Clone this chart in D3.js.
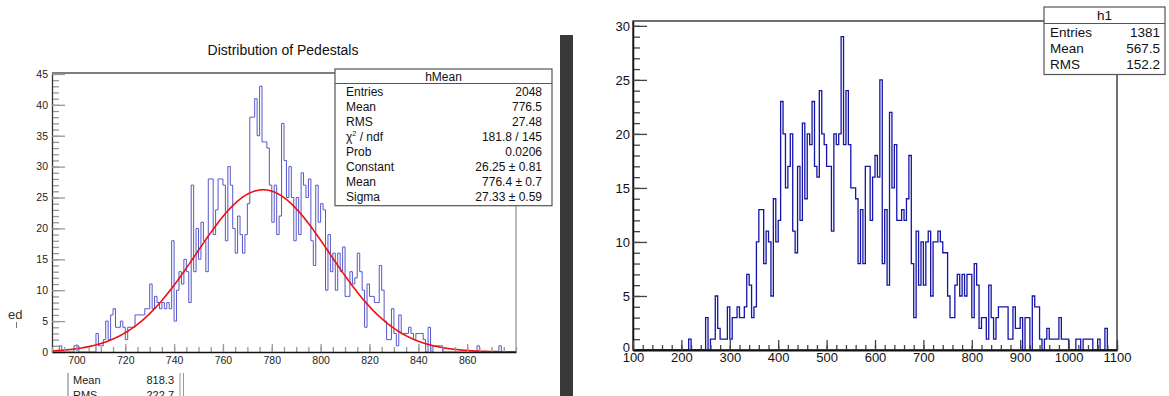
<!DOCTYPE html>
<html><head><meta charset="utf-8">
<script src="https://cdn.jsdelivr.net/npm/d3@7"></script>
<style>
body{margin:0;background:#fff}
svg{display:block}
text{font-family:"Liberation Sans",Arial,Helvetica,sans-serif}
</style>
</head><body>
<svg id="c" width="1169" height="396"></svg>
<script>
// ---------- data ----------
const leftTitle = "Distribution of Pedestals";
const leftBinStart = 690, leftBinWidth = 1;
const leftCounts = [
 0,0,0,1,0,0,0,0,0,1,
 1,0,0,0,0,0,0,0,3,1,
 1,2,5,2,6,7,4,4,5,4,
 2,4,4,4,6,6,6,6,7,7,
 11,7,9,8,7,8,7,8,7,18,
 5,10,13,11,15,13,8,27,13,20,
 15,21,18,13,28,28,19,23,28,28,
 27,18,30,27,20,16,22,19,16,19,
 24,38,38,41,35,43,34,34,33,27,
 21,27,19,22,37,31,25,30,25,18,
 25,19,29,27,25,28,18,14,27,21,
 24,23,10,19,13,16,10,16,13,17,
 9,9,13,11,12,16,13,10,4,11,
 9,9,8,8,14,10,5,2,2,7,
 3,1,6,3,3,3,4,3,2,3,
 3,3,2,0,4,0,1,1,1,1,
 0,0,0,0,0,0,0,0,0,0,
 0,0,0,0,1,0,0,0,0,0,
 0,0,0,1,0,0,0,0,0,0
];
const fitConstant = 26.25, fitMean = 776.4, fitSigma = 27.33;
const leftXTicks = [700,720,740,760,780,800,820,840,860];
const leftYTicks = [0,5,10,15,20,25,30,35,40,45];
const leftStatsTitle = "hMean";
const leftStatsLabels = ["Entries","Mean","RMS","χ2 / ndf","Prob","Constant","Mean","Sigma"];
const leftStatsValues = ["2048","776.5","27.48","181.8 / 145","0.0206","26.25 ± 0.81","776.4 ± 0.7","27.33 ± 0.59"];
const lowerStatsLabels = ["Mean","RMS"];
const lowerStatsValues = ["818.3","222.7"];

const rightBinStart = 100, rightBinWidth = 5;
const rightCounts = [
 0,0,0,0,0,0,0,0,0,0,
 0,0,0,0,0,0,0,0,0,0,
 0,0,0,1,0,0,0,0,0,0,
 3,0,1,1,5,2,1,1,1,4,
 1,3,3,4,3,3,4,7,6,3,
 4,10,13,13,8,11,10,5,14,10,
 12,23,20,15,17,20,11,9,17,12,
 21,14,20,19,23,17,16,24,20,19,
 17,17,11,20,19,20,29,19,24,19,
 15,15,14,8,13,8,17,17,12,16,
 18,16,25,8,13,6,22,15,19,12,
 12,13,12,14,18,8,3,11,6,10,
 6,10,11,5,10,10,11,10,9,9,
 5,3,3,6,7,5,7,5,7,7,
 3,8,6,2,3,3,1,6,3,1,
 3,4,4,4,4,1,1,4,2,2,
 3,0,3,3,0,5,4,4,1,0,
 1,2,1,1,1,1,3,1,1,1,
 0,0,0,1,1,0,1,1,1,1,
 0,0,1,0,0,2,0,0,0,0
];
const rightXTicks = [100,200,300,400,500,600,700,800,900,1000,1100];
const rightYTicks = [0,5,10,15,20,25,30];
const rightStatsTitle = "h1";
const rightStatsLabels = ["Entries","Mean","RMS"];
const rightStatsValues = ["1381","567.5","152.2"];

// ---------- drawing ----------
const svg = d3.select("#c");
const F = "Liberation Sans, Arial, sans-serif";
const fmt = d3.format("d");

function histPath(counts, start, width, x, y) {
  const p = d3.path();
  p.moveTo(x(start), y(0));
  counts.forEach((c, i) => {
    p.lineTo(x(start + i*width), y(c));
    p.lineTo(x(start + (i+1)*width), y(c));
  });
  p.lineTo(x(start + counts.length*width), y(0));
  return p.toString();
}

function range(a, b, s) { const r = []; for (let v = a; v <= b + 1e-9; v += s) r.push(+v.toFixed(6)); return r; }

// ===== Left panel =====
const xL = d3.scaleLinear().domain([690, 880]).range([52, 516]);
const yL = d3.scaleLinear().domain([0, 45.15]).range([352, 73]);

svg.append("text").attr("x", 283).attr("y", 55).attr("text-anchor", "middle")
  .attr("font-size", 14).attr("fill", "#111").text(leftTitle);

// frame
svg.append("line").attr("x1", xL(880)).attr("x2", xL(880)).attr("y1", yL(45.15)).attr("y2", yL(0))
  .attr("stroke", "#999").attr("stroke-width", 1.3);
svg.append("line").attr("x1", xL(690)).attr("x2", xL(880)).attr("y1", yL(45.15)).attr("y2", yL(45.15))
  .attr("stroke", "#555").attr("stroke-width", 1.3);

// histogram
svg.append("path").attr("d", histPath(leftCounts, leftBinStart, leftBinWidth, xL, yL))
  .attr("fill", "none").attr("stroke", "#5656cc").attr("stroke-width", 1);

// fit
const fitXs = d3.range(690, 880.01, 0.5);
svg.append("path").datum(fitXs)
  .attr("d", d3.line().x(d => xL(d)).y(d => yL(fitConstant*Math.exp(-0.5*Math.pow((d-fitMean)/fitSigma, 2)))))
  .attr("fill", "none").attr("stroke", "#f01010").attr("stroke-width", 1.6);

// y axis
const gyl = svg.append("g").attr("transform", `translate(${xL(690)},0)`);
gyl.call(d3.axisLeft(yL).tickValues(range(0, 45, 1)).tickSize(-7).tickSizeOuter(0).tickFormat(""));
gyl.call(g => g.select(".domain").remove());
const gyl2 = svg.append("g").attr("transform", `translate(${xL(690)},0)`);
gyl2.call(d3.axisLeft(yL).tickValues(leftYTicks).tickSize(-13).tickSizeOuter(0).tickPadding(4).tickFormat(fmt));
gyl2.selectAll(".tick text").attr("font-size", 10.5).attr("fill", "#222").attr("font-family", F);
[gyl, gyl2].forEach(g => g.selectAll(".tick line").attr("stroke", "#999").attr("stroke-width", 1.3));
gyl2.select(".domain").attr("stroke", "#333").attr("stroke-width", 1.3);

// x axis
const gxl = svg.append("g").attr("transform", `translate(0,${yL(0)})`);
gxl.call(d3.axisBottom(xL).tickValues(range(690, 880, 5)).tickSize(-5).tickSizeOuter(0).tickFormat(""));
gxl.call(g => g.select(".domain").remove());
const gxl2 = svg.append("g").attr("transform", `translate(0,${yL(0)})`);
gxl2.call(d3.axisBottom(xL).tickValues(leftXTicks).tickSize(-8).tickSizeOuter(0).tickPadding(5).tickFormat(fmt));
gxl2.selectAll(".tick text").attr("font-size", 10.5).attr("fill", "#222").attr("font-family", F);
[gxl, gxl2].forEach(g => g.selectAll(".tick line").attr("stroke", "#999").attr("stroke-width", 1.3));
gxl2.select(".domain").attr("stroke", "#111").attr("stroke-width", 1.5);

// stats box
function statsBox(x0, y0, x1, titleH, rowH, fs, title, labels, values, pad) {
  const h = titleH + rowH*labels.length + 3;
  svg.append("rect").attr("x", x0).attr("y", y0).attr("width", x1-x0).attr("height", h)
    .attr("fill", "#fff").attr("stroke", "#555").attr("stroke-width", 1.2);
  svg.append("line").attr("x1", x0).attr("x2", x1).attr("y1", y0+titleH).attr("y2", y0+titleH)
    .attr("stroke", "#555").attr("stroke-width", 1.2);
  svg.append("text").attr("x", (x0+x1)/2).attr("y", y0+titleH/2+fs*0.36).attr("text-anchor", "middle")
    .attr("font-size", fs).attr("fill", "#111").text(title);
  labels.forEach((l, i) => {
    const cy = y0 + titleH + rowH*(i+0.5) + 1;
    const t = svg.append("text").attr("x", x0+pad).attr("y", cy+fs*0.36).attr("font-size", fs).attr("fill", "#111");
    if (l.startsWith("χ2")) {
      t.append("tspan").text("χ");
      t.append("tspan").attr("dy", -5).attr("font-size", fs*0.6).text("2");
      t.append("tspan").attr("dy", 5).text(" / ndf");
    } else t.text(l);
    svg.append("text").attr("x", x1-pad+1).attr("y", cy+fs*0.36).attr("text-anchor", "end")
      .attr("font-size", fs).attr("fill", "#111").text(values[i]);
  });
}
statsBox(335, 69, 552, 14.5, 14.9, 12, leftStatsTitle, leftStatsLabels, leftStatsValues, 11);

// lower partial stats box (cut by the picture edge, as in the reference)
svg.append("line").attr("x1", 68).attr("x2", 68).attr("y1", 373).attr("y2", 396).attr("stroke", "#777");
svg.append("line").attr("x1", 180).attr("x2", 180).attr("y1", 373).attr("y2", 396).attr("stroke", "#999");
svg.append("line").attr("x1", 183.5).attr("x2", 183.5).attr("y1", 373).attr("y2", 396).attr("stroke", "#999");
lowerStatsLabels.forEach((l, i) => {
  svg.append("text").attr("x", 73).attr("y", 384 + i*14.5).attr("font-size", 11).attr("fill", "#222").text(l);
  svg.append("text").attr("x", 174).attr("y", 384 + i*14.5).attr("text-anchor", "end").attr("font-size", 11).attr("fill", "#222").text(lowerStatsValues[i]);
});

// cut-off axis title fragment
svg.append("text").attr("x", 8).attr("y", 319).attr("font-size", 13).attr("fill", "#333").text("ed");
svg.append("line").attr("x1", 16.5).attr("x2", 16.5).attr("y1", 322).attr("y2", 328).attr("stroke", "#777");

// dark separator bar
svg.append("rect").attr("x", 560).attr("y", 35).attr("width", 13).attr("height", 361).attr("fill", "#393939");

// ===== Right panel =====
const xR = d3.scaleLinear().domain([100, 1100]).range([633, 1117]);
const yR = d3.scaleLinear().domain([0, 30.45]).range([350, 21]);

svg.append("rect").attr("x", xR(100)).attr("y", yR(30.45)).attr("width", xR(1100)-xR(100))
  .attr("height", yR(0)-yR(30.45)).attr("fill", "none").attr("stroke", "#222").attr("stroke-width", 1.3);

svg.append("path").attr("d", histPath(rightCounts, rightBinStart, rightBinWidth, xR, yR))
  .attr("fill", "none").attr("stroke", "#1515a8").attr("stroke-width", 1.3);

const gyr = svg.append("g").attr("transform", `translate(${xR(100)},0)`);
gyr.call(d3.axisLeft(yR).tickValues(range(0, 30, 1)).tickSize(-7).tickSizeOuter(0).tickFormat(""));
gyr.call(g => g.select(".domain").remove());
const gyr2 = svg.append("g").attr("transform", `translate(${xR(100)},0)`);
gyr2.call(d3.axisLeft(yR).tickValues(rightYTicks).tickSize(-14).tickSizeOuter(0).tickPadding(3).tickFormat(fmt));
gyr2.selectAll(".tick text").attr("font-size", 13).attr("fill", "#111").attr("font-family", F);
gyr2.selectAll(".tick text").filter(d => d === 0).attr("dy", "0.1em");
[gyr, gyr2].forEach(g => g.selectAll(".tick line").attr("stroke", "#444").attr("stroke-width", 1.3));
gyr2.select(".domain").attr("stroke", "#111").attr("stroke-width", 1.5);

const gxr = svg.append("g").attr("transform", `translate(0,${yR(0)})`);
gxr.call(d3.axisBottom(xR).tickValues(range(100, 1100, 20)).tickSize(-5).tickSizeOuter(0).tickFormat(""));
gxr.call(g => g.select(".domain").remove());
const gxr2 = svg.append("g").attr("transform", `translate(0,${yR(0)})`);
gxr2.call(d3.axisBottom(xR).tickValues(rightXTicks).tickSize(-10).tickSizeOuter(0).tickPadding(3).tickFormat(fmt));
gxr2.selectAll(".tick text").attr("font-size", 13).attr("fill", "#111").attr("font-family", F);
[gxr, gxr2].forEach(g => g.selectAll(".tick line").attr("stroke", "#444").attr("stroke-width", 1.3));
gxr2.select(".domain").attr("stroke", "#111").attr("stroke-width", 1.8);

statsBox(1044, 7, 1165, 16.5, 16, 13.5, rightStatsTitle, rightStatsLabels, rightStatsValues, 6);
</script>
</body></html>
